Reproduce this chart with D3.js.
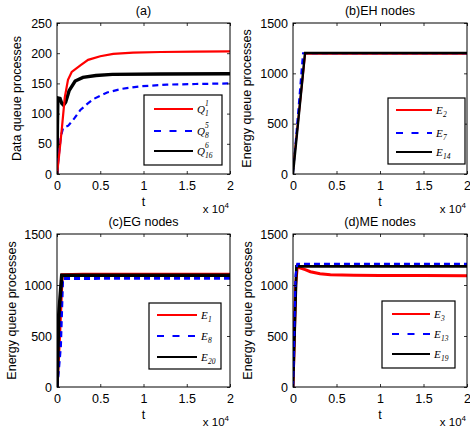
<!DOCTYPE html>
<html>
<head>
<meta charset="utf-8">
<script src="https://cdn.jsdelivr.net/npm/d3@7"></script>
<style>
  body { margin: 0; background: #fff; }
  svg text { font-family: "Liberation Sans", Arial, sans-serif; }
</style>
</head>
<body>
<svg id="chart" width="470" height="432"></svg>
<script>
// Time samples are in units of 10^4 slots; each series is a list of [t, value].
const xTicks = [0, 0.5, 1, 1.5, 2];
const xTickLabels = ["0", "0.5", "1", "1.5", "2"];
const yTicksA = [0, 50, 100, 150, 200, 250];
const yTicksE = [0, 500, 1000, 1500];

// (a) data queues
const Q1_1 = [[0,0],[0.02,25],[0.058,78],[0.09,127],[0.127,156],[0.17,169],[0.27,180],[0.36,189],[0.5,195],[0.65,199],[0.88,201],[1.2,202],[1.6,202.5],[2,203]];
const Q8_5 = [[0,0],[0.02,30],[0.045,62],[0.07,76],[0.13,80],[0.2,92],[0.27,106],[0.35,116],[0.42,124],[0.58,135],[0.75,141],[0.95,145],[1.27,148],[1.6,149],[2,150]];
const Q16_6 = [[0,0],[0.005,80],[0.01,126],[0.035,125],[0.055,117],[0.075,114],[0.1,119],[0.14,138],[0.21,154],[0.3,160],[0.45,163],[0.64,165],[1.2,165.5],[2,166]];

// (b) EH nodes
const E2 = [[0,40],[0.14,1195],[2,1195]];
const E7 = [[0,0],[0.115,1200],[2,1200]];
const E14 = [[0,0],[0.138,1202],[2,1202]];

// (c) EG nodes
const E1 = [[0,0],[0.03,500],[0.06,1100],[0.3,1105],[1,1105],[2,1105]];
const E8 = [[0,0],[0.04,400],[0.065,1063],[0.5,1065],[1,1065],[2,1065]];
const E20 = [[0,0],[0.02,700],[0.055,1095],[0.5,1095],[1,1095],[2,1095]];

// (d) ME nodes
const E3 = [[0,0],[0.03,1000],[0.05,1185],[0.08,1168],[0.14,1150],[0.2,1130],[0.31,1110],[0.43,1100],[0.7,1095],[1,1093],[1.5,1092],[2,1090]];
const E13 = [[0,0],[0.03,1100],[0.05,1208],[2,1208]];
const E19 = [[0,0],[0.04,1183],[2,1183]];

const panels = [
  { title: "(a)", left: 57, right: 230, top: 23, bottom: 174, yMax: 250, yTicks: yTicksA,
    yLabel: "Data queue processes", yLabelX: 18, drawOrder: [2, 1, 0],
    series: [
      { data: Q1_1, color: "#ff0000", dash: null, width: 2.2, base: "Q", sup: "1", sub: "1" },
      { data: Q8_5, color: "#0000ff", dash: "6,4", width: 2.2, base: "Q", sup: "5", sub: "8" },
      { data: Q16_6, color: "#000000", dash: null, width: 3.4, base: "Q", sup: "6", sub: "16" }
    ],
    legend: { x0: 144, x1: 222, y0: 95, y1: 165, lx0: 154, lx1: 193, rows: [109, 131, 151] } },
  { title: "(b)EH nodes", left: 293, right: 467, top: 23, bottom: 174, yMax: 1500, yTicks: yTicksE,
    yLabel: "Energy queue processes", yLabelX: 248, drawOrder: [0, 1, 2],
    series: [
      { data: E2, color: "#ff0000", dash: null, width: 2, base: "E", sub: "2" },
      { data: E7, color: "#0000ff", dash: "6,4", width: 2, base: "E", sub: "7" },
      { data: E14, color: "#000000", dash: null, width: 2.4, base: "E", sub: "14" }
    ],
    legend: { x0: 388, x1: 465, y0: 98, y1: 164, lx0: 396, lx1: 432, rows: [110, 133, 152] } },
  { title: "(c)EG nodes", left: 57, right: 230, top: 234, bottom: 387, yMax: 1500, yTicks: yTicksE,
    yLabel: "Energy queue processes", yLabelX: 13, drawOrder: [0, 1, 2],
    series: [
      { data: E1, color: "#ff0000", dash: null, width: 3, base: "E", sub: "1" },
      { data: E8, color: "#0000ff", dash: "6,4", width: 3, base: "E", sub: "8" },
      { data: E20, color: "#000000", dash: null, width: 3.6, base: "E", sub: "20" }
    ],
    legend: { x0: 149, x1: 221, y0: 303, y1: 369, lx0: 157, lx1: 197, rows: [315, 336, 357] } },
  { title: "(d)ME nodes", left: 293, right: 467, top: 234, bottom: 387, yMax: 1500, yTicks: yTicksE,
    yLabel: "Energy queue processes", yLabelX: 249, drawOrder: [0, 2, 1],
    series: [
      { data: E3, color: "#ff0000", dash: null, width: 3, base: "E", sub: "3" },
      { data: E13, color: "#0000ff", dash: "6,4", width: 2.2, base: "E", sub: "13" },
      { data: E19, color: "#000000", dash: null, width: 2.8, base: "E", sub: "19" }
    ],
    legend: { x0: 382, x1: 455, y0: 301, y1: 368, lx0: 392, lx1: 430, rows: [314, 334, 354] } }
];

const svg = d3.select("#chart");
const sans = "'Liberation Sans', Arial, sans-serif";
const serif = "'Liberation Serif', 'Times New Roman', serif";

panels.forEach(p => {
  const x = d3.scaleLinear().domain([0, 2]).range([p.left, p.right]);
  const y = d3.scaleLinear().domain([0, p.yMax]).range([p.bottom, p.top]);
  const g = svg.append("g");

  // clip lines to the axes box
  const clipId = "clip" + p.left + "_" + p.top;
  svg.append("clipPath").attr("id", clipId)
    .append("rect").attr("x", p.left).attr("y", p.top)
    .attr("width", p.right - p.left).attr("height", p.bottom - p.top);

  const line = d3.line().x(d => x(d[0])).y(d => y(d[1]));
  const lines = g.append("g").attr("clip-path", `url(#${clipId})`);
  p.drawOrder.map(i => p.series[i]).forEach(s => {
    lines.append("path").datum(s.data)
      .attr("d", line)
      .attr("fill", "none")
      .attr("stroke", s.color)
      .attr("stroke-width", s.width)
      .attr("stroke-dasharray", s.dash);
  });

  // axes: ticks inward on all four sides
  const tickLen = 3;
  const axB = g.append("g").attr("transform", `translate(0,${p.bottom})`)
    .call(d3.axisBottom(x).tickValues(xTicks).tickFormat((d, i) => xTickLabels[i]).tickSizeInner(-tickLen).tickSizeOuter(0).tickPadding(7));
  const axT = g.append("g").attr("transform", `translate(0,${p.top})`)
    .call(d3.axisTop(x).tickValues(xTicks).tickFormat("").tickSizeInner(-tickLen).tickSizeOuter(0));
  const axL = g.append("g").attr("transform", `translate(${p.left},0)`)
    .call(d3.axisLeft(y).tickValues(p.yTicks).tickFormat(d3.format("d")).tickSizeInner(-tickLen).tickSizeOuter(0).tickPadding(5));
  const axR = g.append("g").attr("transform", `translate(${p.right},0)`)
    .call(d3.axisRight(y).tickValues(p.yTicks).tickFormat("").tickSizeInner(-tickLen).tickSizeOuter(0));
  [axB, axT, axL, axR].forEach(a => {
    a.select(".domain").remove();
    a.selectAll("line").attr("stroke", "#000").attr("stroke-width", 0.8);
    a.selectAll("text").attr("font-size", 12.5).attr("fill", "#000")
      .style("font-family", sans);
  });

  g.append("rect").attr("x", p.left).attr("y", p.top)
    .attr("width", p.right - p.left).attr("height", p.bottom - p.top)
    .attr("fill", "none").attr("stroke", "#000").attr("stroke-width", 1);

  // titles and axis labels
  const cx = (p.left + p.right) / 2;
  g.append("text").attr("x", cx).attr("y", p.top - 8).attr("text-anchor", "middle")
    .attr("font-size", 12.5).text(p.title);
  g.append("text").attr("x", cx).attr("y", p.bottom + 32).attr("text-anchor", "middle")
    .attr("font-size", 12.5).text("t");
  const mul = g.append("text").attr("x", p.right - 1).attr("y", p.bottom + 39)
    .attr("text-anchor", "end").attr("font-size", 11.5);
  mul.append("tspan").text("x 10");
  mul.append("tspan").attr("dy", -5).attr("font-size", 8).text("4");
  g.append("text")
    .attr("transform", `translate(${p.yLabelX},${(p.top + p.bottom) / 2}) rotate(-90)`)
    .attr("text-anchor", "middle").attr("dominant-baseline", "middle")
    .attr("font-size", 12.5).text(p.yLabel);

  // legend
  const L = p.legend;
  const lg = g.append("g");
  lg.append("rect").attr("x", L.x0).attr("y", L.y0)
    .attr("width", L.x1 - L.x0).attr("height", L.y1 - L.y0)
    .attr("fill", "#fff").attr("stroke", "#000").attr("stroke-width", 1.2);
  p.series.forEach((s, i) => {
    const ry = L.rows[i];
    lg.append("line").attr("x1", L.lx0).attr("x2", L.lx1).attr("y1", ry).attr("y2", ry)
      .attr("stroke", s.color).attr("stroke-width", 2)
      .attr("stroke-dasharray", s.dash ? "7,8.5" : null);
    const tx = L.lx1 + 4;
    lg.append("text").attr("x", tx).attr("y", ry + 3.5)
      .attr("font-size", 11).attr("font-style", "italic").style("font-family", serif)
      .text(s.base);
    const sx = tx + (s.base === "Q" ? 8 : 7);
    lg.append("text").attr("x", sx).attr("y", ry + 6.5)
      .attr("font-size", 7.5).attr("font-style", "italic").style("font-family", serif)
      .text(s.sub);
    if (s.sup) {
      lg.append("text").attr("x", sx).attr("y", ry - 3)
        .attr("font-size", 7.5).attr("font-style", "italic").style("font-family", serif)
        .text(s.sup);
    }
  });
});
</script>
</body>
</html>
